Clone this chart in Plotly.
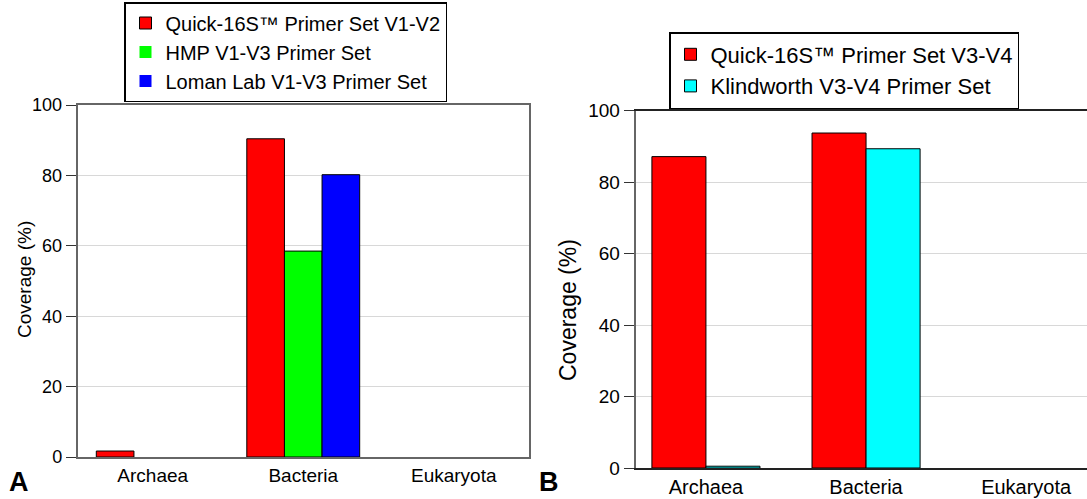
import plotly.graph_objects as go

categories = ["Archaea", "Bacteria", "Eukaryota"]
a_quick_v1v2 = [1.7, 90.4, 0]
a_hmp_v1v3 = [0, 58.5, 0]
a_loman_v1v3 = [0, 80.2, 0]
b_quick_v3v4 = [87.1, 93.7, 0]
b_klindworth_v3v4 = [0.5, 89.3, 0]
y_ticks = [0, 20, 40, 60, 80, 100]

W, H = 1087, 499
FONT = "Arial, Liberation Sans, sans-serif"


def px_x(p):
    return p / W


def px_y(p):
    return 1 - p / H


def outline(vals):
    return [1 if v > 0 else 0 for v in vals]


fig = go.Figure()

wa = 0.25
a_series = [
    ("Quick-16S™ Primer Set V1-V2", a_quick_v1v2, "#ff0000", -0.375),
    ("HMP V1-V3 Primer Set", a_hmp_v1v3, "#00ff00", -0.125),
    ("Loman Lab V1-V3 Primer Set", a_loman_v1v3, "#0000ff", 0.125),
]
for name, vals, col, off in a_series:
    fig.add_trace(go.Bar(
        x=categories, y=vals, name=name, xaxis="x", yaxis="y",
        width=wa, offset=off, legend="legend",
        marker=dict(color=col, line=dict(color="#000000", width=outline(vals))),
    ))

wb = 0.3375
b_series = [
    ("Quick-16S™ Primer Set V3-V4", b_quick_v3v4, "#ff0000", -wb),
    ("Klindworth V3-V4 Primer Set", b_klindworth_v3v4, "#00ffff", 0.0),
]
for name, vals, col, off in b_series:
    fig.add_trace(go.Bar(
        x=categories, y=vals, name=name, xaxis="x2", yaxis="y2",
        width=wb, offset=off, legend="legend2",
        marker=dict(color=col, line=dict(color="#000000", width=outline(vals))),
    ))

fig.update_layout(
    width=W, height=H,
    margin=dict(l=0, r=0, t=0, b=0, autoexpand=False),
    paper_bgcolor="white", plot_bgcolor="white",
    barmode="overlay",
    font=dict(family=FONT, color="#000000"),
    xaxis=dict(
        domain=[px_x(77.5), px_x(529)], anchor="y", automargin=False,
        type="category", range=[-0.5, 2.5],
        showline=True, mirror=True, linecolor="#666666", linewidth=1.5,
        ticks="", tickfont=dict(size=19), showgrid=False, zeroline=False,
    ),
    yaxis=dict(
        domain=[px_y(457), px_y(105)], anchor="x", automargin=False,
        range=[0, 100], tickvals=y_ticks,
        showline=True, mirror=True, linecolor="#666666", linewidth=1.5,
        ticks="outside", ticklen=10, tickcolor="#333333", tickwidth=1,
        tickfont=dict(size=18),
        showgrid=True, gridcolor="#d8d8d8", gridwidth=1, zeroline=False,
    ),
    xaxis2=dict(
        domain=[px_x(635.5), 1.0], anchor="y2", automargin=False,
        type="category", range=[-0.44, 2.38],
        showline=True, mirror=True, linecolor="#222222", linewidth=1.5,
        ticks="", tickfont=dict(size=20), showgrid=False, zeroline=False,
    ),
    yaxis2=dict(
        domain=[px_y(468), px_y(110.5)], anchor="x2", automargin=False,
        range=[0, 100], tickvals=y_ticks,
        showline=True, mirror=False, linecolor="#666666", linewidth=1.5,
        ticks="outside", ticklen=10, tickcolor="#333333", tickwidth=1,
        tickfont=dict(size=19),
        showgrid=True, gridcolor="#d8d8d8", gridwidth=1, zeroline=False,
    ),
    legend=dict(
        x=px_x(124), y=px_y(2), xanchor="left", yanchor="top",
        bordercolor="#000000", borderwidth=1.5, bgcolor="white",
        font=dict(size=20), traceorder="normal",
    ),
    legend2=dict(
        x=px_x(669), y=px_y(32), xanchor="left", yanchor="top",
        bordercolor="#000000", borderwidth=1.5, bgcolor="white",
        font=dict(size=22), traceorder="normal",
    ),
)

fig.add_annotation(text="Coverage (%)", textangle=-90, xref="paper", yref="paper",
                   x=px_x(24), y=px_y(280), xanchor="center", yanchor="middle",
                   showarrow=False, font=dict(size=19))
fig.add_annotation(text="Coverage (%)", textangle=-90, xref="paper", yref="paper",
                   x=px_x(568), y=px_y(310), xanchor="center", yanchor="middle",
                   showarrow=False, font=dict(size=23))
fig.add_annotation(text="<b>A</b>", xref="paper", yref="paper",
                   x=px_x(7), y=0, xanchor="left", yanchor="bottom",
                   showarrow=False, font=dict(size=27))
fig.add_annotation(text="<b>B</b>", xref="paper", yref="paper",
                   x=px_x(537), y=0, xanchor="left", yanchor="bottom",
                   showarrow=False, font=dict(size=27))

fig.write_html("out.html", config={"displayModeBar": False},
               post_script="document.body.style.margin='0';")
